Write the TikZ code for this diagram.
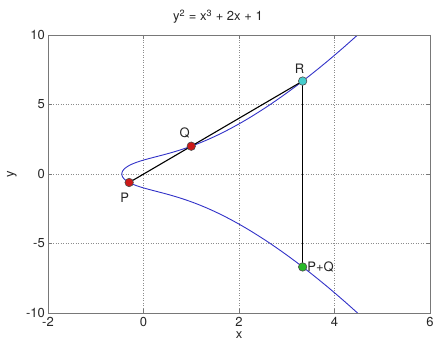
\documentclass[tikz,border=0pt]{standalone}
\usepackage{fontspec}
\setmainfont{TeX Gyre Heros}
\definecolor{curveblue}{RGB}{50,50,200}
\definecolor{ptred}{RGB}{205,25,25}
\definecolor{ptcyan}{RGB}{70,205,205}
\definecolor{ptgreen}{RGB}{40,185,40}
\definecolor{framegray}{RGB}{120,120,120}
\begin{document}
\begin{tikzpicture}[
  font=\fontsize{13}{15}\selectfont,
  marker/.style={circle, draw=black!70, line width=0.6pt, inner sep=0pt, minimum size=8.5pt},
  gridline/.style={draw=black!45, line width=0.5pt, dotted},
  framebox/.style={draw=framegray, line width=0.7pt},
  chord/.style={draw=black, line width=1.1pt},
  ticklabel/.style={inner sep=1pt, text=black!85},
  ptlabel/.style={inner sep=1pt, text=black!85, font=\fontsize{13}{15}\selectfont}
]
\useasboundingbox (0,0) rectangle (436pt,354pt);
\begin{scope}[x=47.75pt, y=13.9pt, shift={(143.5pt,180pt)}]
  % grid
  \foreach \gx in {0,2,4} \draw[gridline] (\gx,-10) -- (\gx,10);
  \foreach \gy in {-5,0,5} \draw[gridline] (-2,\gy) -- (6,\gy);
  % ticks
  \foreach \gx in {-2,0,2,4,6} {
    \draw[framegray, line width=0.5pt] (\gx,-10) -- ++(0,4pt);
    \draw[framegray, line width=0.5pt] (\gx,10) -- ++(0,-4pt);
    \node[ticklabel, anchor=north] (xt\gx) at ([yshift=-3pt]\gx,-10) {\gx};
  }
  \foreach \gy in {-10,-5,0,5,10} {
    \draw[framegray, line width=0.5pt] (-2,\gy) -- ++(4pt,0);
    \draw[framegray, line width=0.5pt] (6,\gy) -- ++(-4pt,0);
    \node[ticklabel, anchor=east] (yt\gy) at ([xshift=-2pt]-2,\gy) {\gy};
  }
  % curve
  \begin{scope}
    \clip (-2,-10) rectangle (6,10);
    \draw[curveblue, line width=0.9pt, smooth] plot[samples=160, domain=-2.2216:2.2216, variable=\t]
      ({-0.453397+\t*\t}, {sign(\t)*sqrt(max(0,(-0.453397+\t*\t)^3+2*(-0.453397+\t*\t)+1))});
  \end{scope}
  % frame
  \draw[framebox] (-2,-10) rectangle (6,10);
  % points
  \coordinate (cP) at (-0.3,-0.6107);
  \coordinate (cQ) at (1,2);
  \coordinate (cR) at (3.333,6.686);
  \coordinate (cS) at (3.333,-6.686);
  \draw[chord] (cP) -- (cR);
  \draw[chord] (cR) -- (cS);
  \node[marker, fill=ptred] (P) at (cP) {};
  \node[marker, fill=ptred] (Q) at (cQ) {};
  \node[marker, fill=ptcyan] (R) at (cR) {};
  \node[marker, fill=ptgreen] (S) at (cS) {};
  \node[ptlabel, anchor=north east] (Pl) at ([xshift=1pt,yshift=-5pt]P.south) {P};
  \node[ptlabel, anchor=south east] (Ql) at ([xshift=3pt,yshift=4pt]Q.north west) {Q};
  \node[ptlabel, anchor=south] (Rl) at ([xshift=-3pt,yshift=2pt]R.north) {R};
  \node[ptlabel, anchor=west] (Sl) at ([xshift=-1pt]S.east) {P+Q};
  % axis labels
  \node[ticklabel, anchor=north] (xlab) at ([yshift=-17pt]2,-10) {x};
  \node[ticklabel, rotate=90] (ylab) at ([xshift=-36pt]-2,0) {y};
\end{scope}
\node[ticklabel] (title) at (218pt,337pt) {y\textsuperscript{2} = x\textsuperscript{3} + 2x + 1};
\end{tikzpicture}
\end{document}
